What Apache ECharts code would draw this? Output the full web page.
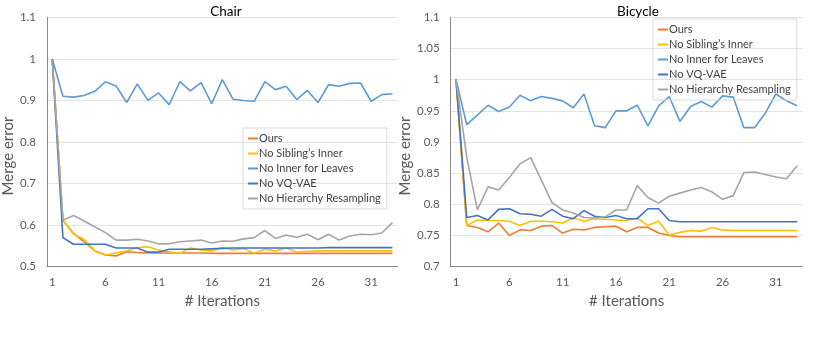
<!DOCTYPE html>
<html>
<head>
<meta charset="utf-8">
<script src="https://cdn.jsdelivr.net/npm/echarts@6/dist/echarts.min.js"></script>
<style>
  html, body { margin: 0; padding: 0; background: #fff; }
  #chart { width: 831px; height: 342px; }
</style>
</head>
<body>
<div id="chart"></div>
<script>
// iterations 1..33
const iterations = Array.from({ length: 33 }, (_, i) => String(i + 1));
const seriesNames = ['Ours', "No Sibling\u2019s Inner", 'No Inner for Leaves', 'No VQ-VAE', 'No Hierarchy Resampling'];
const colors = ['#ED7D31', '#FFC000', '#5B9BD5', '#4472C4', '#A5A5A5'];

// Chair
const chairOurs = [1.0, 0.612, 0.580, 0.560, 0.538, 0.528, 0.526, 0.536, 0.534, 0.533, 0.533, 0.533, 0.533, 0.533, 0.533, 0.532, 0.532, 0.532, 0.532, 0.532, 0.532, 0.532, 0.532, 0.532, 0.532, 0.532, 0.532, 0.532, 0.532, 0.532, 0.532, 0.532, 0.532];
const chairNoSibling = [1.0, 0.612, 0.578, 0.566, 0.538, 0.528, 0.533, 0.538, 0.546, 0.548, 0.540, 0.536, 0.532, 0.545, 0.540, 0.538, 0.546, 0.540, 0.544, 0.532, 0.542, 0.538, 0.545, 0.535, 0.537, 0.538, 0.538, 0.538, 0.538, 0.538, 0.538, 0.538, 0.538];
const chairNoInnerLeaves = [1.0, 0.910, 0.908, 0.912, 0.922, 0.945, 0.935, 0.895, 0.940, 0.900, 0.918, 0.890, 0.945, 0.923, 0.943, 0.892, 0.950, 0.903, 0.900, 0.898, 0.945, 0.926, 0.934, 0.902, 0.924, 0.895, 0.938, 0.934, 0.941, 0.942, 0.898, 0.914, 0.916];
const chairNoVQ = [1.0, 0.570, 0.554, 0.554, 0.554, 0.554, 0.545, 0.545, 0.545, 0.535, 0.535, 0.542, 0.542, 0.542, 0.542, 0.543, 0.544, 0.545, 0.545, 0.545, 0.545, 0.545, 0.545, 0.545, 0.545, 0.545, 0.546, 0.546, 0.546, 0.546, 0.546, 0.546, 0.546];
const chairNoHier = [1.0, 0.612, 0.623, 0.610, 0.596, 0.582, 0.564, 0.564, 0.566, 0.562, 0.555, 0.555, 0.560, 0.562, 0.564, 0.557, 0.562, 0.561, 0.567, 0.570, 0.587, 0.568, 0.576, 0.571, 0.578, 0.565, 0.578, 0.564, 0.574, 0.578, 0.577, 0.581, 0.606];

// Bicycle
const bikeOurs = [1.0, 0.766, 0.763, 0.756, 0.770, 0.750, 0.759, 0.758, 0.765, 0.766, 0.754, 0.760, 0.759, 0.763, 0.764, 0.765, 0.756, 0.763, 0.763, 0.754, 0.750, 0.748, 0.748, 0.748, 0.748, 0.748, 0.748, 0.748, 0.748, 0.748, 0.748, 0.748, 0.748];
const bikeNoSibling = [1.0, 0.766, 0.775, 0.774, 0.774, 0.773, 0.766, 0.773, 0.773, 0.772, 0.770, 0.778, 0.773, 0.777, 0.776, 0.775, 0.774, 0.778, 0.766, 0.773, 0.751, 0.755, 0.758, 0.757, 0.763, 0.759, 0.758, 0.758, 0.758, 0.758, 0.758, 0.758, 0.758];
const bikeNoInnerLeaves = [1.0, 0.928, 0.943, 0.959, 0.949, 0.956, 0.975, 0.966, 0.973, 0.970, 0.966, 0.955, 0.977, 0.926, 0.923, 0.950, 0.950, 0.959, 0.926, 0.958, 0.973, 0.933, 0.957, 0.965, 0.956, 0.974, 0.972, 0.923, 0.923, 0.946, 0.977, 0.966, 0.958];
const bikeNoVQ = [1.0, 0.779, 0.782, 0.775, 0.792, 0.793, 0.785, 0.784, 0.781, 0.792, 0.781, 0.777, 0.790, 0.781, 0.779, 0.782, 0.777, 0.777, 0.793, 0.793, 0.774, 0.772, 0.772, 0.772, 0.772, 0.772, 0.772, 0.772, 0.772, 0.772, 0.772, 0.772, 0.772];
const bikeNoHier = [1.0, 0.876, 0.791, 0.828, 0.823, 0.843, 0.865, 0.875, 0.839, 0.803, 0.791, 0.786, 0.779, 0.778, 0.780, 0.791, 0.791, 0.830, 0.811, 0.802, 0.813, 0.818, 0.823, 0.827, 0.820, 0.808, 0.814, 0.851, 0.852, 0.848, 0.844, 0.841, 0.862];

const chairData = [chairOurs, chairNoSibling, chairNoInnerLeaves, chairNoVQ, chairNoHier];
const bikeData = [bikeOurs, bikeNoSibling, bikeNoInnerLeaves, bikeNoVQ, bikeNoHier];

const FONT = 'Lato';
const labelColor = '#595959';

function xAxis(gridIndex) {
  return {
    type: 'category', gridIndex, data: iterations, boundaryGap: true,
    name: '# Iterations', nameLocation: 'middle', nameGap: 26,
    nameTextStyle: { fontFamily: FONT, fontSize: 15, color: labelColor },
    axisLine: { lineStyle: { color: '#8c8c8c', width: 1 } },
    axisTick: { show: false },
    axisLabel: { interval: 4, color: labelColor, fontFamily: FONT, fontSize: 11.5, margin: 10 },
    splitLine: { show: false }
  };
}

function yAxis(gridIndex, min, max, interval, gap) {
  return {
    type: 'value', gridIndex, min, max, interval,
    name: 'Merge error', nameLocation: 'middle', nameGap: gap,
    nameTextStyle: { fontFamily: FONT, fontSize: 15, color: labelColor, padding: [0, 28, 0, 0] },
    axisLine: { show: true, lineStyle: { color: '#8c8c8c', width: 1 } },
    axisTick: { show: false },
    axisLabel: { color: labelColor, fontFamily: FONT, fontSize: 11.5, margin: 11 },
    splitLine: { lineStyle: { color: '#e3e3e3', width: 1 } }
  };
}

function legend(left, top) {
  return {
    orient: 'vertical', left, top,
    data: seriesNames,
    icon: 'rect', itemWidth: 10, itemHeight: 2, itemGap: 0,
    padding: [3, 6, 3, 5],
    borderColor: '#d9d9d9', borderWidth: 1,
    textStyle: { fontFamily: FONT, fontSize: 11, color: '#404040', lineHeight: 15, padding: [0, 0, 0, -4] },
    selectedMode: false
  };
}

const series = [];
[chairData, bikeData].forEach((set, g) => {
  set.forEach((vals, k) => {
    series.push({
      name: seriesNames[k], type: 'line', xAxisIndex: g, yAxisIndex: g,
      data: vals, showSymbol: false, symbol: 'none',
      lineStyle: { color: colors[k], width: 1.6 },
      itemStyle: { color: colors[k] },
      animation: false
    });
  });
});

const chart = echarts.init(document.getElementById('chart'));
chart.setOption({
  backgroundColor: '#ffffff',
  animation: false,
  title: [
    { text: 'Chair', left: 221, top: 0, textAlign: 'center', textStyle: { fontFamily: FONT, fontSize: 13.5, fontWeight: 'normal', color: '#000' } },
    { text: 'Bicycle', left: 633, top: 0, textAlign: 'center', textStyle: { fontFamily: FONT, fontSize: 13.5, fontWeight: 'normal', color: '#000' } }
  ],
  grid: [
    { left: 45.7, right: 433.3, top: 17.3, bottom: 75.3 },
    { left: 450.7, right: 28.5, top: 17.3, bottom: 75.3 }
  ],
  legend: [legend(243, 128), legend(653, 19)],
  xAxis: [xAxis(0), xAxis(1)],
  yAxis: [yAxis(0, 0.5, 1.1, 0.1, 30), yAxis(1, 0.7, 1.1, 0.05, 35)],
  series
});
</script>
</body>
</html>
